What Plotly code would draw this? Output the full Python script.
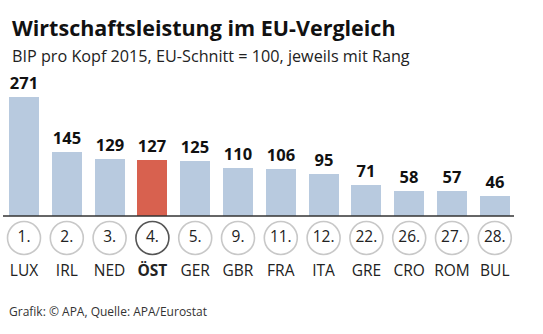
import plotly.graph_objects as go

countries = ["LUX", "IRL", "NED", "ÖST", "GER", "GBR", "FRA", "ITA", "GRE", "CRO", "ROM", "BUL"]
values = [271, 145, 129, 127, 125, 110, 106, 95, 71, 58, 57, 46]
ranks = ["1.", "2.", "3.", "4.", "5.", "9.", "11.", "12.", "22.", "26.", "27.", "28."]
highlight = "ÖST"

W, H = 543, 334
FONT = "Open Sans"
x = list(range(len(countries)))

bar_colors = ["#d8614f" if c == highlight else "#b8cadf" for c in countries]
circle_lines = ["#555555" if c == highlight else "#c8c8c8" for c in countries]
label_texts = [f"<b>{c}</b>" if c == highlight else c for c in countries]

# pixel geometry -> data ranges
px_per_cat = 42.8
first_center = 24
x0 = -first_center / px_per_cat
x1 = x0 + W / px_per_cat
base_px = 216
px_per_unit = 0.439
y1 = base_px / px_per_unit
y0 = -(H - base_px) / px_per_unit

def ypx(p):
    return (base_px - p) / px_per_unit

fig = go.Figure()
fig.add_trace(go.Bar(
    x=x, y=values, width=0.70,
    marker=dict(color=bar_colors, line=dict(width=0)),
    text=[f"<b>{v}</b>" for v in values], textposition="outside",
    textfont=dict(family=FONT, size=16.5, color="#111111"),
    cliponaxis=False, hoverinfo="skip",
))
fig.add_trace(go.Scatter(
    x=x, y=[ypx(238)] * len(x), mode="markers+text",
    marker=dict(symbol="circle", size=33, color="white",
                line=dict(color=circle_lines, width=1.6)),
    text=ranks, textposition="middle center",
    textfont=dict(family=FONT, size=15.5, color="#222222"),
    hoverinfo="skip", cliponaxis=False,
))
fig.add_trace(go.Scatter(
    x=x, y=[ypx(272)] * len(x), mode="text",
    text=label_texts, textposition="middle center",
    textfont=dict(family=FONT, size=15.5, color="#222222"),
    hoverinfo="skip", cliponaxis=False,
))

fig.add_shape(type="line", xref="paper", yref="y", x0=3 / W, x1=514 / W, y0=0, y1=0,
              line=dict(color="#333333", width=1.5))

fig.add_annotation(xref="paper", yref="paper", x=10 / W, y=1 - 27 / H, xanchor="left", yanchor="middle",
                   text="<b>Wirtschaftsleistung im EU-Vergleich</b>", showarrow=False,
                   font=dict(family=FONT, size=21.5, color="#111111"))
fig.add_annotation(xref="paper", yref="paper", x=10 / W, y=1 - 56 / H, xanchor="left", yanchor="middle",
                   text="BIP pro Kopf 2015, EU-Schnitt = 100, jeweils mit Rang", showarrow=False,
                   font=dict(family=FONT, size=16.2, color="#222222"))
fig.add_annotation(xref="paper", yref="paper", x=7 / W, y=1 - 311 / H, xanchor="left", yanchor="middle",
                   text="Grafik: © APA, Quelle: APA/Eurostat", showarrow=False,
                   font=dict(family=FONT, size=12, color="#333333"))

fig.update_layout(
    width=W, height=H, margin=dict(l=0, r=0, t=0, b=0),
    paper_bgcolor="white", plot_bgcolor="white", showlegend=False,
    xaxis=dict(range=[x0, x1], visible=False, fixedrange=True),
    yaxis=dict(range=[y0, y1], visible=False, fixedrange=True),
    bargap=0,
)
fig.write_html("out.html")
